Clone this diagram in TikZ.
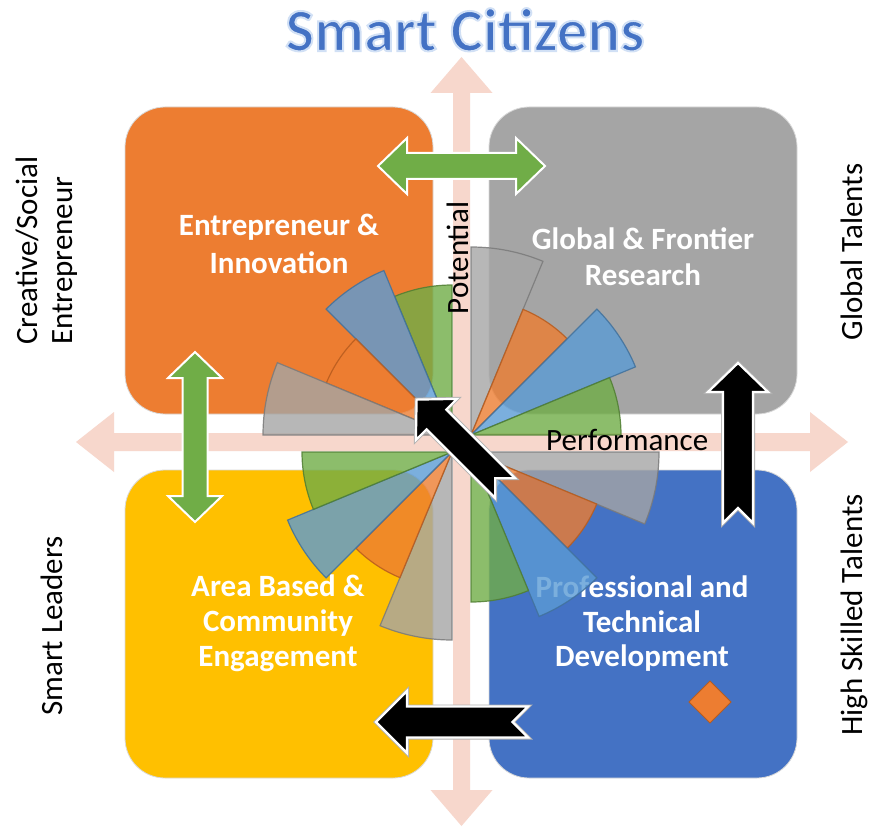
\documentclass[tikz,border=0pt]{standalone}
\usepackage{fontspec}
\setmainfont{Carlito}
\usetikzlibrary{calc}
\definecolor{qorange}{HTML}{ED7D31}
\definecolor{qgray}{HTML}{A5A5A5}
\definecolor{qyellow}{HTML}{FFC000}
\definecolor{qblue}{HTML}{4472C4}
\definecolor{sblue}{HTML}{5B9BD5}
\definecolor{sgreen}{HTML}{70AD47}
\definecolor{pinkax}{RGB}{247,215,204}
\definecolor{orline}{HTML}{B85C1E}
\definecolor{grline}{HTML}{7A7A7A}
\definecolor{blline}{HTML}{41719C}
\definecolor{gnline}{HTML}{507E32}
\tikzset{
  quad/.style={draw=black!15, line width=0.8pt, rounded corners=40pt},
  qtext/.style={text=white, font=\fontsize{31}{38}\selectfont\bfseries, anchor=base, inner sep=0pt},
  sidelbl/.style={font=\fontsize{31}{35}\selectfont, anchor=base, rotate=90, inner sep=0pt},
  axlbl/.style={font=\fontsize{31}{35}\selectfont, inner sep=0pt},
  titlefont/.style={font=\fontsize{61}{66}\selectfont\bfseries, anchor=base, inner sep=0pt},
  sec/.style={fill opacity=0.8, draw opacity=0.85, line width=1.2pt},
  secgray/.style={sec, fill=qgray, draw=grline},
  secorange/.style={sec, fill=qorange, draw=orline},
  secblue/.style={sec, fill=sblue, draw=blline},
  secgreen/.style={sec, fill=sgreen, draw=gnline},
  pinkarrow/.style={fill=pinkax},
  greenarrow/.style={fill=sgreen, draw=white, line width=2pt, line join=miter},
  blackarrow/.style={fill=black, draw=white, line width=2.2pt, line join=miter},
  blackshadow/.style={draw=black!30, line width=4pt, line join=miter}
}
% outlined text (fill + light stroke)
\newcommand\glowtext[1]{\special{pdf:literal direct 2 Tr 2.0 w 0.82 0.88 0.96 RG}#1\special{pdf:literal direct 0 Tr 1 w}}
% sector: center, start, end, radius, style
\newcommand\sector[5]{\draw[#5] (#1) -- ++(#2:#4) arc[start angle=#2, end angle=#3, radius=#4] -- cycle;}
% notched arrow: style, x, y, angle, length, half shaft, half head, head length
\newcommand\notched[8]{%
  \begin{scope}[shift={(#2,#3)}, rotate=#4]
    \path[#1] (0,-#6) -- ({#5-#8},-#6) -- ({#5-#8},-#7) -- (#5,0) -- ({#5-#8},#7) -- ({#5-#8},#6) -- (0,#6) -- (#6,0) -- cycle;
  \end{scope}}
% double arrow: style, x, y, angle, length, half shaft, half head, head length
\newcommand\dblarrow[8]{%
  \begin{scope}[shift={(#2,#3)}, rotate=#4]
    \path[#1] (0,0) -- (#8,#7) -- (#8,#6) -- ({#5-#8},#6) -- ({#5-#8},#7) -- (#5,0) -- ({#5-#8},-#7) -- ({#5-#8},-#6) -- (#8,-#6) -- (#8,-#7) -- cycle;
  \end{scope}}
\begin{document}
\begin{tikzpicture}[x=1pt, y=1pt]
  \useasboundingbox (0,0) rectangle (874,-826);
  \fill[white] (0,0) rectangle (874,-826);

  % pink axes
  \dblarrow{pinkarrow}{76}{-442}{0}{772}{9}{30}{38}
  \dblarrow{pinkarrow}{461.5}{-826}{90}{769}{8.5}{31}{36}

  % quadrants
  \draw[quad, fill=qorange] (125,-107) rectangle (433,-414);
  \draw[quad, fill=qgray]   (489,-107) rectangle (797,-414);
  \draw[quad, fill=qyellow] (125,-470) rectangle (433,-778);
  \draw[quad, fill=qblue]   (489,-470) rectangle (797,-778);

  % quadrant texts
  \node[qtext] (ei1) at (279,-235) {Entrepreneur \&};
  \node[qtext] (ei2) at (279,-273) {Innovation};
  \node[qtext] (gf1) at (643,-249) {Global \& Frontier};
  \node[qtext] (gf2) at (643,-285) {Research};
  \node[qtext] (ab1) at (278,-596) {Area Based \&};
  \node[qtext] (ab2) at (278,-631) {Community};
  \node[qtext] (ab3) at (278,-666) {Engagement};
  \node[qtext] (pt1) at (642,-597) {Professional and};
  \node[qtext] (pt2) at (642,-632) {Technical};
  \node[qtext] (pt3) at (642,-666) {Development};

  % rose chart
  \coordinate (cUL) at (452,-435);
  \coordinate (cUR) at (471,-435);
  \coordinate (cLR) at (471,-452);
  \coordinate (cLL) at (452,-452);
  \sector{cUL}{90}{112.5}{150}{secgreen}
  \sector{cUL}{112.5}{135}{178}{secblue}
  \sector{cUL}{135}{157.5}{136}{secorange}
  \sector{cUL}{157.5}{180}{189}{secgray}
  \sector{cUR}{67.5}{90}{188}{secgray}
  \sector{cUR}{45}{67.5}{136}{secorange}
  \sector{cUR}{22.5}{45}{178}{secblue}
  \sector{cUR}{0}{22.5}{150}{secgreen}
  \sector{cLR}{-22.5}{0}{188}{secgray}
  \sector{cLR}{-45}{-22.5}{136}{secorange}
  \sector{cLR}{-67.5}{-45}{178}{secblue}
  \sector{cLR}{-90}{-67.5}{150}{secgreen}
  \sector{cLL}{247.5}{270}{188}{secgray}
  \sector{cLL}{225}{247.5}{136}{secorange}
  \sector{cLL}{202.5}{225}{178}{secblue}
  \sector{cLL}{180}{202.5}{150}{secgreen}

  % green double arrows
  \dblarrow{greenarrow}{378}{-166}{0}{167}{13}{28}{29}
  \dblarrow{greenarrow}{195}{-522}{90}{170}{12.5}{27}{26}

  % axis labels
  \node[axlbl, rotate=90, anchor=base] (pot) at (468,-258) {Potential};
  \node[axlbl, anchor=base west] (perf) at (546,-450) {Performance};

  % black notched arrows
  \notched{blackshadow}{738}{-523}{90}{160}{15}{30}{29}
  \notched{blackarrow}{738}{-523}{90}{160}{15}{30}{29}
  \notched{blackshadow}{528}{-722}{180}{152}{15.5}{31}{31}
  \notched{blackarrow}{528}{-722}{180}{152}{15.5}{31}{31}
  \notched{blackshadow}{505}{-488}{135}{125}{14}{29}{28}
  \notched{blackarrow}{505}{-488}{135}{125}{14}{29}{28}

  % diamond
  \path[fill=qorange, draw=orline, line width=1pt] (710,-681) -- (731,-702) -- (710,-723) -- (689,-702) -- cycle;

  % side labels
  \node[sidelbl, anchor=base west] (cs1) at (37,-345) {Creative/Social};
  \node[sidelbl, anchor=base west] (cs2) at (72,-345) {Entrepreneur};
  \node[sidelbl] (sl) at (62,-626) {Smart Leaders};
  \node[sidelbl] (gt) at (862,-252) {Global Talents};
  \node[sidelbl] (hs) at (862,-615) {High Skilled Talents};

  % title
  \node[titlefont, text=qblue] (title) at (465,-51) {\glowtext{Smart Citizens}};
\end{tikzpicture}
\end{document}
